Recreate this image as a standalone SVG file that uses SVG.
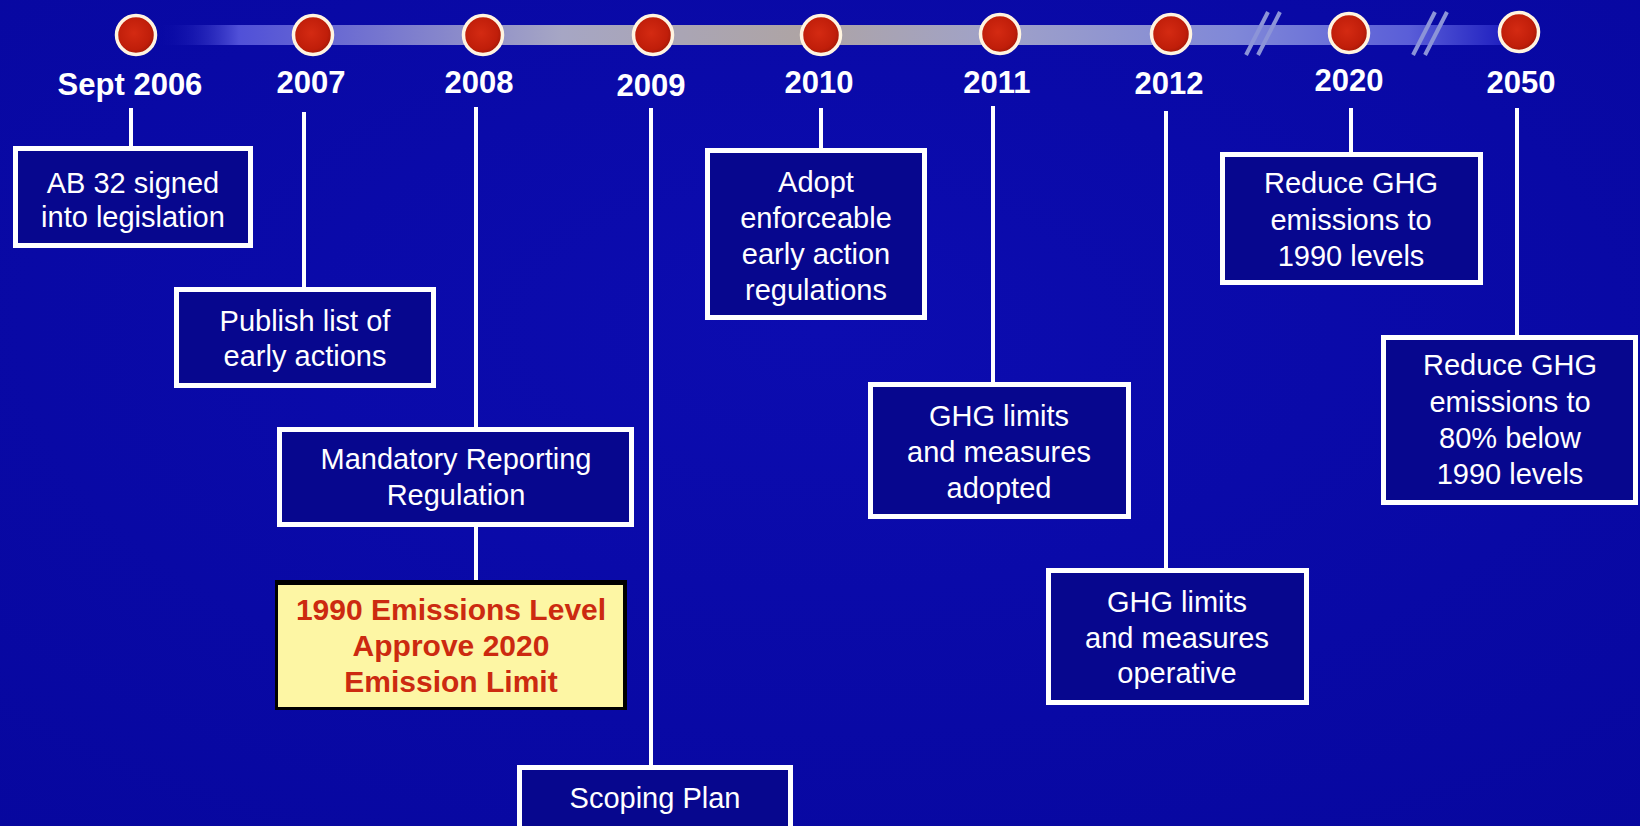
<svg xmlns="http://www.w3.org/2000/svg" width="1640" height="826" viewBox="0 0 1640 826">
<defs>
<linearGradient id="bar" x1="0" y1="0" x2="1" y2="0">
<stop offset="0" stop-color="#0a0aa8" stop-opacity="0"/>
<stop offset="0.06" stop-color="#5050d8"/>
<stop offset="0.3" stop-color="#a6a6c4"/>
<stop offset="0.48" stop-color="#aea4a4"/>
<stop offset="0.62" stop-color="#a0a2c8"/>
<stop offset="0.8" stop-color="#8088d8"/>
<stop offset="0.93" stop-color="#5a5ed8"/>
<stop offset="1" stop-color="#2020c0"/>
</linearGradient>
<radialGradient id="dot" cx="0.45" cy="0.45" r="0.6">
<stop offset="0" stop-color="#d42a12"/>
<stop offset="0.7" stop-color="#c01e0a"/>
<stop offset="1" stop-color="#9a1606"/>
</radialGradient>
<radialGradient id="bg" cx="0.5" cy="0.4" r="0.8">
<stop offset="0" stop-color="#0c0cb0"/>
<stop offset="1" stop-color="#07079e"/>
</radialGradient>
</defs>
<style>
.box{fill:#07078e;stroke:#ffffff;stroke-width:5}
.t{font-family:"Liberation Sans",Arial,sans-serif;font-size:29px;fill:#ffffff;text-anchor:middle}
.yr{font-family:"Liberation Sans",Arial,sans-serif;font-size:31px;font-weight:bold;fill:#ffffff;text-anchor:middle}
.red{font-family:"Liberation Sans",Arial,sans-serif;font-size:30px;font-weight:bold;fill:#cc2a10;text-anchor:middle}
.ln{stroke:#ffffff;stroke-width:4;fill:none}
.brk{stroke:#8c94d8;stroke-width:4;fill:none}
.dot{fill:url(#dot);stroke:#fff4e0;stroke-width:3.5}
</style>
<rect x="0" y="0" width="1640" height="826" fill="url(#bg)"/>

<g id="timeline">
<rect x="158" y="25" width="1345" height="20" fill="url(#bar)"/>
<line class="brk" x1="1246" y1="55" x2="1268" y2="12"/>
<line class="brk" x1="1258" y1="55" x2="1280" y2="12"/>
<line class="brk" x1="1413" y1="55" x2="1435" y2="12"/>
<line class="brk" x1="1425" y1="55" x2="1447" y2="12"/>
</g>

<g id="connectors">
<line class="ln" x1="131" y1="108" x2="131" y2="148"/>
<line class="ln" x1="304" y1="112" x2="304" y2="289"/>
<line class="ln" x1="476" y1="107" x2="476" y2="429"/>
<line class="ln" x1="476" y1="525" x2="476" y2="582"/>
<line class="ln" x1="651" y1="108" x2="651" y2="767"/>
<line class="ln" x1="821" y1="108" x2="821" y2="150"/>
<line class="ln" x1="993" y1="106" x2="993" y2="384"/>
<line class="ln" x1="1166" y1="111" x2="1166" y2="570"/>
<line class="ln" x1="1351" y1="108" x2="1351" y2="154"/>
<line class="ln" x1="1517" y1="108" x2="1517" y2="337"/>
</g>

<g id="year-2006"><circle class="dot" cx="136" cy="35" r="19.5"/><text class="yr" x="130" y="95">Sept 2006</text></g>
<g id="year-2007"><circle class="dot" cx="313" cy="35" r="19.5"/><text class="yr" x="311" y="93">2007</text></g>
<g id="year-2008"><circle class="dot" cx="483" cy="35" r="19.5"/><text class="yr" x="479" y="93">2008</text></g>
<g id="year-2009"><circle class="dot" cx="653" cy="35" r="19.5"/><text class="yr" x="651" y="96">2009</text></g>
<g id="year-2010"><circle class="dot" cx="821" cy="35" r="19.5"/><text class="yr" x="819" y="93">2010</text></g>
<g id="year-2011"><circle class="dot" cx="1000" cy="34" r="19.5"/><text class="yr" x="997" y="93">2011</text></g>
<g id="year-2012"><circle class="dot" cx="1171" cy="34" r="19.5"/><text class="yr" x="1169" y="94">2012</text></g>
<g id="year-2020"><circle class="dot" cx="1349" cy="33" r="19.5"/><text class="yr" x="1349" y="91">2020</text></g>
<g id="year-2050"><circle class="dot" cx="1519" cy="32" r="19.5"/><text class="yr" x="1521" y="93">2050</text></g>

<g id="ab32">
<rect class="box" x="15.5" y="148.5" width="235" height="97"/>
<text class="t" x="133" y="193">AB 32 signed</text>
<text class="t" x="133" y="227">into legislation</text>
</g>

<g id="publish">
<rect class="box" x="176.5" y="289.5" width="257" height="96"/>
<text class="t" x="305" y="331">Publish list of</text>
<text class="t" x="305" y="366">early actions</text>
</g>

<g id="mandatory">
<rect class="box" x="279.5" y="429.5" width="352" height="95"/>
<text class="t" x="456" y="469">Mandatory Reporting</text>
<text class="t" x="456" y="505">Regulation</text>
</g>

<g id="emissions-limit">
<rect x="275" y="580" width="352" height="130" fill="#000000"/>
<rect x="278" y="585" width="345" height="122" fill="#fdf6a4"/>
<text class="red" x="451" y="620">1990 Emissions Level</text>
<text class="red" x="451" y="656">Approve 2020</text>
<text class="red" x="451" y="692">Emission Limit</text>
</g>

<g id="scoping">
<rect class="box" x="519.5" y="767.5" width="271" height="75"/>
<text class="t" x="655" y="808">Scoping Plan</text>
</g>

<g id="adopt">
<rect class="box" x="707.5" y="150.5" width="217" height="167"/>
<text class="t" x="816" y="192">Adopt</text>
<text class="t" x="816" y="228">enforceable</text>
<text class="t" x="816" y="264">early action</text>
<text class="t" x="816" y="300">regulations</text>
</g>

<g id="ghg-adopted">
<rect class="box" x="870.5" y="384.5" width="258" height="132"/>
<text class="t" x="999" y="426">GHG limits</text>
<text class="t" x="999" y="462">and measures</text>
<text class="t" x="999" y="498">adopted</text>
</g>

<g id="ghg-operative">
<rect class="box" x="1048.5" y="570.5" width="258" height="132"/>
<text class="t" x="1177" y="612">GHG limits</text>
<text class="t" x="1177" y="648">and measures</text>
<text class="t" x="1177" y="683">operative</text>
</g>

<g id="reduce-2020">
<rect class="box" x="1222.5" y="154.5" width="258" height="128"/>
<text class="t" x="1351" y="193">Reduce GHG</text>
<text class="t" x="1351" y="230">emissions to</text>
<text class="t" x="1351" y="266">1990 levels</text>
</g>

<g id="reduce-2050">
<rect class="box" x="1383.5" y="337.5" width="252" height="165"/>
<text class="t" x="1510" y="375">Reduce GHG</text>
<text class="t" x="1510" y="412">emissions to</text>
<text class="t" x="1510" y="448">80% below</text>
<text class="t" x="1510" y="484">1990 levels</text>
</g>
</svg>
